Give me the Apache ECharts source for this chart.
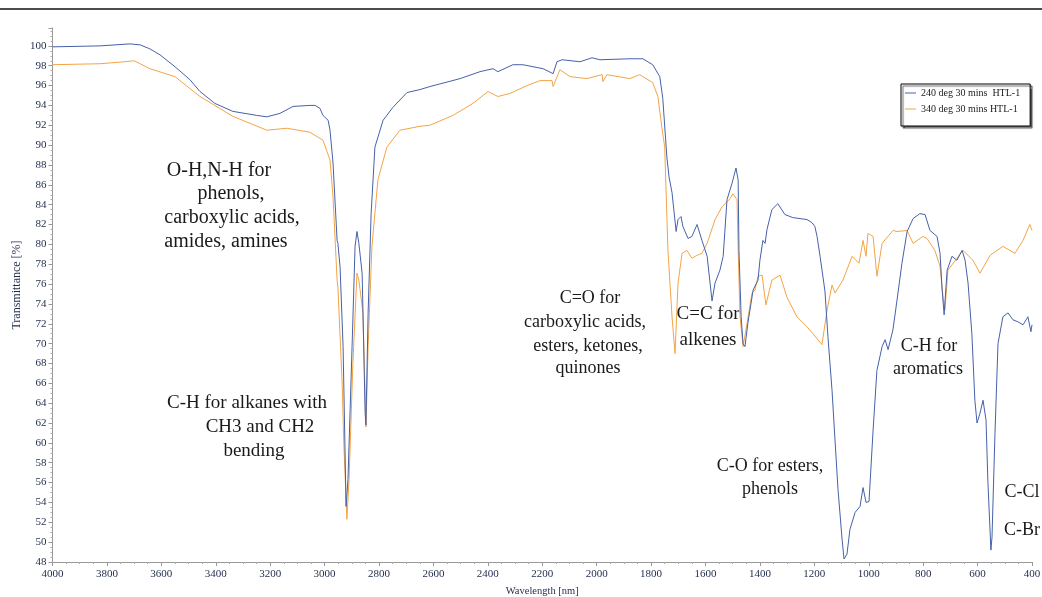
<!DOCTYPE html>
<html>
<head>
<meta charset="utf-8">
<script src="https://cdn.jsdelivr.net/npm/echarts@6/dist/echarts.min.js"></script>
<style>
html,body{margin:0;padding:0;background:#fff;}
#chart{width:1042px;height:597px;}
</style>
</head>
<body>
<div id="chart"></div>
<script>
// ---- Data ----
const seriesNames = ['240 deg 30 mins  HTL-1', '340 deg 30 mins HTL-1'];

const blueWavenumber = [4000,3825,3715,3678,3642,3605,3550,3495,3458,3403,3337,3250,3212,3164,3116,3054,3035,3017,3006,2987,2980,2969,2954,2951,2943,2932,2921,2914,2899,2888,2881,2874,2862,2851,2848,2840,2829,2815,2785,2749,2697,2649,2613,2502,2429,2381,2363,2308,2271,2197,2160,2146,2127,2061,2017,1988,1878,1830,1794,1768,1757,1742,1734,1723,1708,1701,1690,1683,1664,1650,1631,1613,1594,1576,1565,1547,1535,1521,1502,1488,1480,1477,1469,1462,1455,1444,1425,1407,1400,1389,1381,1374,1356,1334,1308,1279,1227,1209,1198,1190,1179,1161,1150,1135,1124,1113,1098,1091,1080,1069,1050,1032,1021,1010,999,984,970,951,940,929,911,896,878,859,837,812,793,775,749,738,731,723,712,694,676,657,646,635,621,610,602,591,580,569,562,551,547,536,525,507,488,470,452,433,415,404,400];
const blueTransmittance = [99.9,100.0,100.2,100.1,99.7,99.1,97.9,96.6,95.4,94.2,93.4,93.0,92.85,93.2,93.9,94.0,94.0,93.7,93.0,92.5,91.5,88.2,80.4,80.1,77.7,69.7,53.6,56.3,69.7,79.8,81.3,80.1,77.1,63.0,61.8,73.1,83.1,89.8,92.5,93.8,95.3,95.6,95.9,96.7,97.4,97.7,97.4,98.1,98.1,97.7,97.2,98.4,98.6,98.4,98.8,98.6,98.7,98.7,98.1,96.9,94.7,88.8,86.8,85.2,81.3,82.5,82.8,81.8,80.6,80.8,82.0,80.4,78.8,74.3,76.1,77.4,78.8,84.5,86.2,87.7,86.5,79.4,72.7,70.0,69.7,72.1,75.4,76.4,78.4,80.4,80.1,81.5,83.5,84.1,83.0,82.7,82.5,82.2,81.8,80.8,78.8,75.3,70.7,65.3,60.3,55.3,50.3,48.3,48.8,51.3,53.0,53.6,55.5,54.0,54.1,61.3,67.3,69.7,70.4,69.4,71.4,74.4,78.1,81.3,82.6,83.1,83.0,81.4,80.8,79.1,75.7,72.9,77.4,78.8,78.4,79.4,78.4,76.1,71.0,64.3,62.0,63.0,64.3,62.3,56.0,49.2,50.5,61.0,70.0,72.7,73.1,72.4,72.2,71.9,72.7,71.2,71.9];

const orangeWavenumber = [4000,3825,3734,3700,3678,3642,3550,3458,3337,3212,3139,3054,3006,2980,2969,2954,2951,2936,2929,2918,2910,2896,2881,2874,2859,2848,2840,2826,2804,2771,2723,2649,2613,2528,2455,2399,2363,2319,2256,2208,2164,2160,2135,2098,2036,1980,1977,1962,1878,1842,1830,1794,1775,1761,1750,1738,1723,1712,1701,1686,1668,1650,1631,1613,1594,1565,1539,1510,1499,1484,1480,1473,1462,1447,1429,1418,1407,1392,1378,1356,1326,1301,1264,1227,1205,1172,1153,1135,1124,1095,1061,1036,1021,1010,1003,984,970,951,911,896,859,837,801,786,757,738,727,720,709,676,654,617,591,584,554,507,463,433,408,400];
const orangeTransmittance = [98.1,98.2,98.4,98.5,98.2,97.7,96.9,94.9,92.9,91.5,91.7,91.3,90.5,88.5,84.8,76.4,75.7,66.4,59.7,52.3,56.3,68.0,77.1,76.4,73.1,61.6,69.7,79.8,86.5,89.8,91.5,91.9,92.0,93.0,94.2,95.4,94.9,95.2,96.0,96.5,96.5,95.9,97.6,96.9,96.7,97.1,96.4,97.1,96.7,97.1,96.9,96.3,94.9,91.9,89.8,79.4,72.7,69.0,76.1,79.1,79.4,78.6,78.9,79.1,80.1,82.5,83.8,84.6,85.1,84.5,79.4,72.7,69.7,72.1,75.1,75.4,76.8,76.9,73.9,76.4,76.9,74.7,72.7,71.7,71.0,69.9,73.4,75.9,75.1,76.4,78.8,78.1,80.4,78.8,81.1,80.8,76.8,80.1,81.4,81.3,81.4,80.1,80.8,80.6,79.4,77.8,74.7,73.4,77.4,78.6,79.4,78.4,77.1,77.1,78.9,79.8,79.1,80.4,82.0,81.4];

const annotations = [
  {text:'O-H,N-H for', x:219, y:171, size:20},
  {text:'phenols,', x:231, y:194, size:20},
  {text:'carboxylic acids,', x:232, y:218, size:20},
  {text:'amides, amines', x:226, y:242, size:20},
  {text:'C-H for alkanes with', x:247, y:403, size:19},
  {text:'CH3 and CH2', x:260, y:427, size:19},
  {text:'bending', x:254, y:451, size:19},
  {text:'C=O for', x:590, y:298, size:18},
  {text:'carboxylic acids,', x:585, y:322, size:18},
  {text:'esters, ketones,', x:588, y:346, size:18},
  {text:'quinones', x:588, y:368, size:18},
  {text:'C=C for', x:708, y:314, size:19},
  {text:'alkenes', x:708, y:340, size:19},
  {text:'C-H for', x:929, y:346, size:18},
  {text:'aromatics', x:928, y:369, size:18},
  {text:'C-O for esters,', x:770, y:466, size:18},
  {text:'phenols', x:770, y:489, size:18},
  {text:'C-Cl', x:1022, y:492, size:18},
  {text:'C-Br', x:1022, y:530, size:18}
];

const zip = (a, b) => a.map((v, i) => [v, b[i]]);

const chart = echarts.init(document.getElementById('chart'), null, {renderer: 'canvas'});
const serif = '"Liberation Serif", "DejaVu Serif", serif';
const labelColor = '#1e2b4a';

const graphics = [
  {type:'line', shape:{x1:0, y1:9, x2:1042, y2:9}, style:{stroke:'#111', lineWidth:1.5}, silent:true},
  {type:'text', x:17, y:285, rotation:Math.PI/2,
   style:{text:'Transmittance [%]', font:'12px ' + serif, fill:labelColor, textAlign:'center', textVerticalAlign:'middle'}}
];
annotations.forEach(a => {
  graphics.push({type:'text', x:a.x, y:a.y,
    style:{text:a.text, font:a.size + 'px ' + serif, fill:'#1a1a1a', textAlign:'center', textVerticalAlign:'middle'}});
});

chart.setOption({
  animation: false,
  backgroundColor: '#fff',
  grid: {left: 52.5, right: 10, top: 28, bottom: 35, containLabel: false, outerBoundsMode: 'none'},
  legend: {
    show: true,
    data: seriesNames,
    orient: 'vertical',
    left: 901, top: 84,
    padding: [4, 10, 12, 4],
    itemWidth: 11, itemHeight: 1,
    itemGap: 6,
    icon: 'rect',
    backgroundColor: '#fff',
    borderColor: '#000', borderWidth: 1,
    shadowColor: 'rgba(0,0,0,0.6)', shadowBlur: 1, shadowOffsetX: 2, shadowOffsetY: 2,
    textStyle: {fontFamily: serif, fontSize: 10, color: '#1a1a1a', padding: [0,0,0,0]}
  },
  xAxis: {
    type: 'value', inverse: true, min: 400, max: 4000, interval: 200,
    name: 'Wavelength [nm]', nameLocation: 'middle', nameGap: 24,
    nameTextStyle: {fontFamily: serif, fontSize: 10.5, color: labelColor},
    axisLine: {show: true, onZero: false, lineStyle: {color: '#999', width: 1}},
    axisTick: {show: true, length: 4, lineStyle: {color: '#999'}},
    minorTick: {show: true, splitNumber: 4, length: 2, lineStyle: {color: '#aaa'}},
    axisLabel: {fontFamily: serif, fontSize: 11, color: labelColor, margin: 7, formatter: v => String(v)},
    splitLine: {show: false}
  },
  yAxis: {
    type: 'value', min: 48, max: 101.8, interval: 2,
    axisLine: {show: true, onZero: false, lineStyle: {color: '#999', width: 1}},
    axisTick: {show: true, length: 4, lineStyle: {color: '#999'}},
    minorTick: {show: true, splitNumber: 4, length: 2, lineStyle: {color: '#aaa'}},
    axisLabel: {fontFamily: serif, fontSize: 11, color: labelColor, margin: 6, showMaxLabel: false, formatter: v => String(v)},
    splitLine: {show: false}
  },
  graphic: graphics,
  series: [
    {name: seriesNames[0], type: 'line', data: zip(blueWavenumber, blueTransmittance),
     showSymbol: false, symbol: 'none', lineStyle: {color: '#4661a9', width: 1}, itemStyle: {color: '#4661a9'}, z: 3},
    {name: seriesNames[1], type: 'line', data: zip(orangeWavenumber, orangeTransmittance),
     showSymbol: false, symbol: 'none', lineStyle: {color: '#f3a445', width: 1}, itemStyle: {color: '#f3a445'}, z: 2}
  ]
});
</script>
</body>
</html>
